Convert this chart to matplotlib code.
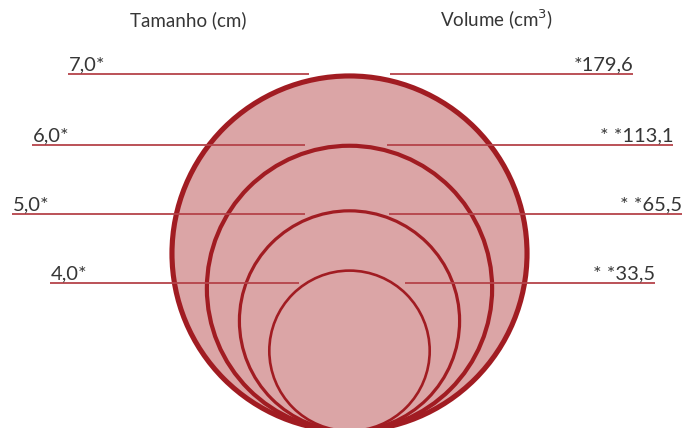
import matplotlib
matplotlib.use("Agg")
import matplotlib.pyplot as plt
from matplotlib.patches import Circle

# sizes (cm) and volumes (cm3), biggest first
sizes = [7.0, 6.0, 5.0, 4.0]
size_labels = ["7,0*", "6,0*", "5,0*", "4,0*"]
volume_labels = ["*179,6", "* *113,1", "* *65,5", "* *33,5"]
volumes = [179.6, 113.1, 65.5, 33.5]

# layout (pixels)
left_start = [68, 32, 12, 50]
left_end = [309, 305, 305, 299]
right_start = [390, 387, 389, 405]
right_end = [633, 673, 682, 655]
line_y = [73.5, 144.5, 213.5, 282.5]
stroke_w = [3.7, 3.0, 2.3, 1.9]

fill_col = "#dba5a6"
edge_col = "#a11c22"
lead_col = "#b5434a"
txt_col = "#363636"

plt.rcParams['font.family'] = ['Lato', 'DejaVu Sans']

fig = plt.figure(figsize=(7, 4.28), dpi=100)
ax = fig.add_axes([0, 0, 1, 1])
ax.set_xlim(0, 700)
ax.set_ylim(428, 0)
ax.axis('off')

cx = 349.5
base_y = 431


def radius(s):
    # drawn radius grows a bit faster than size
    return 11.2 * s ** 1.42


for s, lw in zip(sizes, stroke_w):
    r = radius(s)
    ax.add_patch(Circle((cx, base_y - r), r, facecolor=fill_col, edgecolor=edge_col, lw=lw, zorder=2))

for i in range(len(sizes)):
    y = line_y[i]
    ax.plot([left_start[i], left_end[i]], [y, y], color=lead_col, lw=1.3, zorder=3, solid_capstyle='butt')
    ax.plot([right_start[i], right_end[i]], [y, y], color=lead_col, lw=1.3, zorder=3, solid_capstyle='butt')
    ax.text(left_start[i] + 1, y - 3.5, size_labels[i], ha='left', va='baseline', fontsize=14.5,
            color=txt_col)
    ax.text(right_end[i], y - 3.5, volume_labels[i], ha='right', va='baseline', fontsize=14.5,
            color=txt_col)

ax.text(188, 20, "Tamanho (cm)", ha='center', va='center', fontsize=13.5, color=txt_col)
ax.text(497, 20, "Volume (cm$^3$)", ha='center', va='center', fontsize=13.5, color=txt_col)

fig.savefig("out.png", dpi=100)
